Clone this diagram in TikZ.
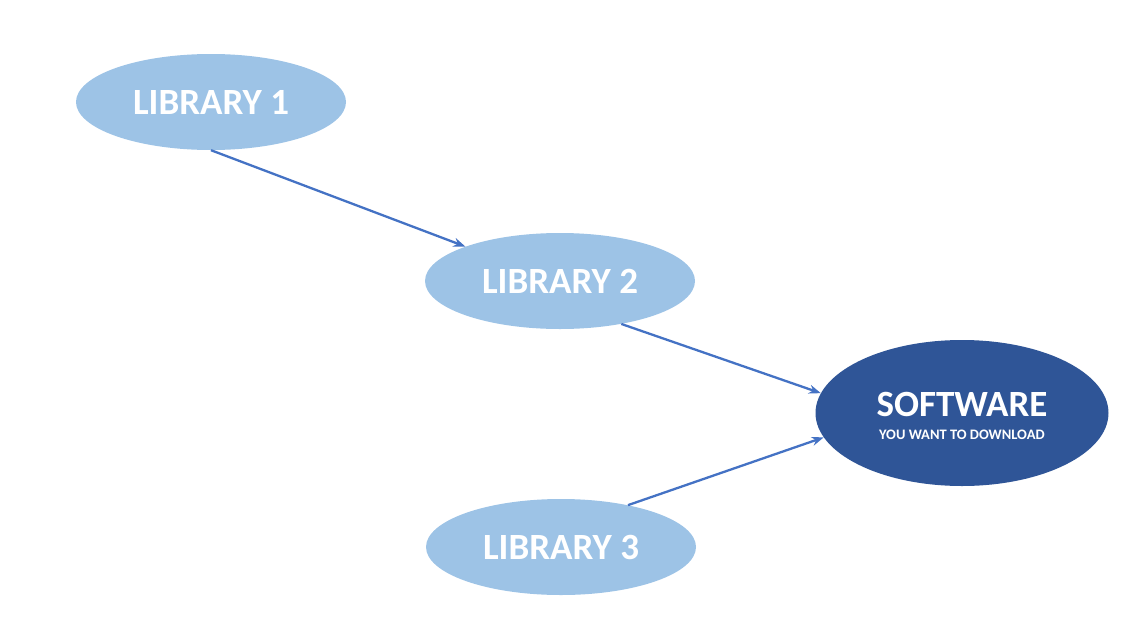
\documentclass[tikz,border=0pt]{standalone}
\usepackage{fontspec}
\setmainfont{Carlito}
\usetikzlibrary{shapes.geometric,arrows.meta}
\definecolor{libfill}{HTML}{9DC3E6}
\definecolor{swfill}{HTML}{2F5597}
\definecolor{arrowc}{HTML}{4472C4}
\begin{document}
\begin{tikzpicture}[x=1pt,y=-1pt,
  lib/.style={ellipse,fill=libfill,draw=none,minimum width=270pt,minimum height=96pt,inner sep=0pt,text=white,font=\bfseries\fontsize{37}{40}\selectfont},
  sw/.style={ellipse,fill=swfill,draw=none,minimum width=293pt,minimum height=146pt,inner sep=0pt,text=white},
  conn/.style={draw=arrowc,line width=2.3pt,-{Stealth[length=12pt,width=9pt]}}]
\useasboundingbox (0,0) rectangle (1136,635);
\node[lib] (l1) at (211,102) {LIBRARY 1};
\node[lib] (l2) at (560,281) {LIBRARY 2};
\node[lib] (l3) at (561,547) {LIBRARY 3};
\node[sw] (sw) at (962,413) {};
\node[text=white,font=\bfseries\fontsize{37}{40}\selectfont,inner sep=0pt] (swt) at (962,404) {SOFTWARE};
\node[text=white,font=\bfseries\fontsize{14.5}{16}\selectfont,inner sep=0pt] (sws) at (962,435) {YOU WANT TO DOWNLOAD};
\draw[conn] (l1.south) -- (l2.160);
\draw[conn] (l2.-35) -- (sw.172);
\draw[conn] (l3.32) -- (sw.190);
\end{tikzpicture}
\end{document}
